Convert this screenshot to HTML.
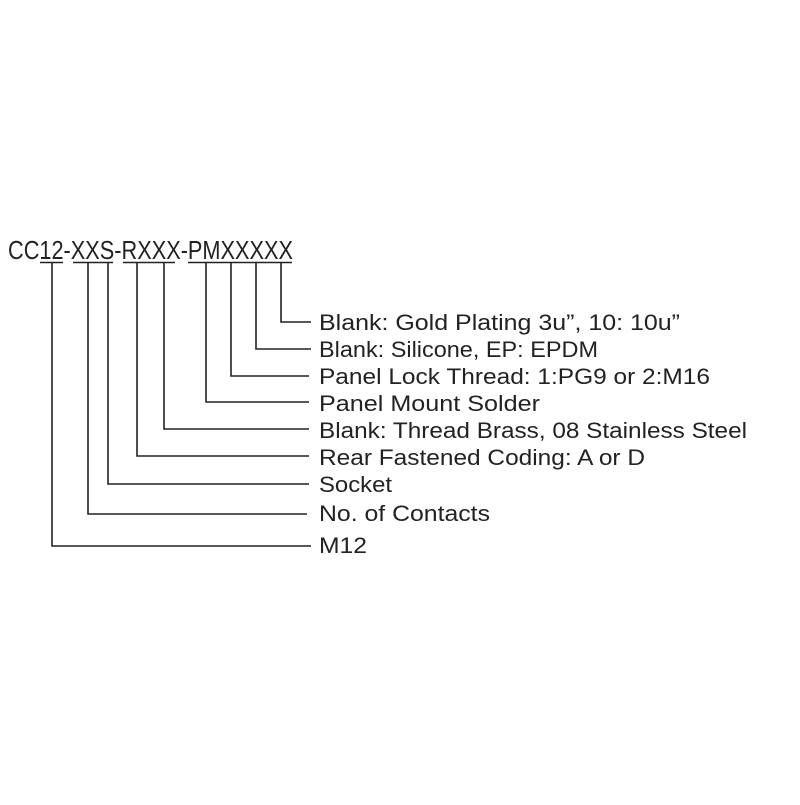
<!DOCTYPE html>
<html><head><meta charset="utf-8"><style>html,body{margin:0;padding:0;background:#fff}</style></head>
<body>
<svg width="800" height="800" viewBox="0 0 800 800" xmlns="http://www.w3.org/2000/svg" font-family="Liberation Sans, sans-serif" fill="#222">
<rect width="800" height="800" fill="#fff"/>
<text x="8" y="259" font-size="26" textLength="285" lengthAdjust="spacingAndGlyphs">CC12-XXS-RXXX-PMXXXXX</text>
<g stroke="#222" stroke-width="1.6" fill="none">
<line x1="40" y1="262.5" x2="63" y2="262.5"/>
<line x1="73" y1="262.5" x2="113" y2="262.5"/>
<line x1="123" y1="262.5" x2="175" y2="262.5"/>
<line x1="188" y1="262.5" x2="292" y2="262.5"/>
<polyline points="281,263 281,322 311,322"/>
<polyline points="256,263 256,349 311,349"/>
<polyline points="231,263 231,376 309,376"/>
<polyline points="206,263 206,402 309,402"/>
<polyline points="164,263 164,429 309,429"/>
<polyline points="137,263 137,456 309,456"/>
<polyline points="108,263 108,484 309,484"/>
<polyline points="88,263 88,514 307,514"/>
<polyline points="52,263 52,546 311,546"/>
</g>
<g font-size="22">
<text x="319" y="330" textLength="361" lengthAdjust="spacingAndGlyphs">Blank: Gold Plating 3u”, 10: 10u”</text>
<text x="319" y="357" textLength="279" lengthAdjust="spacingAndGlyphs">Blank: Silicone, EP: EPDM</text>
<text x="319" y="384" textLength="391" lengthAdjust="spacingAndGlyphs">Panel Lock Thread: 1:PG9 or 2:M16</text>
<text x="319" y="411" textLength="221" lengthAdjust="spacingAndGlyphs">Panel Mount Solder</text>
<text x="319" y="438" textLength="428" lengthAdjust="spacingAndGlyphs">Blank: Thread Brass, 08 Stainless Steel</text>
<text x="319" y="465" textLength="326" lengthAdjust="spacingAndGlyphs">Rear Fastened Coding: A or D</text>
<text x="319" y="492" textLength="73" lengthAdjust="spacingAndGlyphs">Socket</text>
<text x="319" y="521" textLength="171" lengthAdjust="spacingAndGlyphs">No. of Contacts</text>
<text x="319" y="553" textLength="48" lengthAdjust="spacingAndGlyphs">M12</text>
</g>
</svg>
</body></html>
